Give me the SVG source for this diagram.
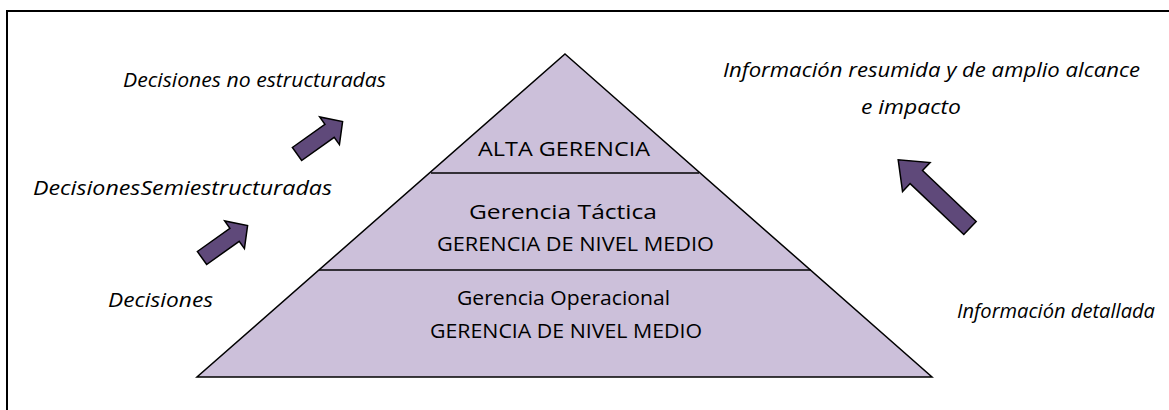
<svg xmlns="http://www.w3.org/2000/svg" width="1169" height="410" viewBox="0 0 1169 410">
<style>
.t{font-family:"Open Sans","Liberation Sans",sans-serif;font-size:20.5px;fill:#000}
.i{font-style:italic}
.arr{fill:#5F497A;stroke:#000;stroke-width:1.5;stroke-linejoin:miter}
.div{stroke:#000;stroke-width:1.5;fill:none}
</style>
<defs>
<polygon id="small" class="arr" points="0,-8 40,-8 40,-17 56,0 40,17 40,8 0,8"/>
<polygon id="big" class="arr" points="0,-9 74,-9 74,-20 99,0 74,20 74,9 0,9"/>
</defs>
<rect x="0" y="0" width="1169" height="410" fill="#fff"/>
<rect x="7" y="11" width="1200" height="500" fill="none" stroke="#000" stroke-width="2"/>
<g id="pyramid">
<polygon points="565,54 932,377 197,377" fill="#CCC0DA" stroke="#000" stroke-width="1.5"/>
<line class="div" x1="431" y1="173" x2="699" y2="173"/>
<line class="div" x1="319" y1="270" x2="811" y2="270"/>
</g>
<g id="level-alta">
<text class="t" x="478" y="156" textLength="172" lengthAdjust="spacingAndGlyphs">ALTA GERENCIA</text>
</g>
<g id="level-tactica">
<text class="t" x="469" y="219" textLength="188" lengthAdjust="spacingAndGlyphs">Gerencia Táctica</text>
<text class="t" x="437" y="251" textLength="277" lengthAdjust="spacingAndGlyphs">GERENCIA DE NIVEL MEDIO</text>
</g>
<g id="level-operacional">
<text class="t" x="457" y="305" textLength="213" lengthAdjust="spacingAndGlyphs">Gerencia Operacional</text>
<text class="t" x="430" y="338" textLength="272" lengthAdjust="spacingAndGlyphs">GERENCIA DE NIVEL MEDIO</text>
</g>
<g id="labels-left">
<text class="t i" x="123" y="87" textLength="263" lengthAdjust="spacingAndGlyphs">Decisiones no estructuradas</text>
<text class="t i" x="33" y="195" textLength="299" lengthAdjust="spacingAndGlyphs">DecisionesSemiestructuradas</text>
<text class="t i" x="108" y="307" textLength="105" lengthAdjust="spacingAndGlyphs">Decisiones</text>
</g>
<g id="labels-right">
<text class="t i" x="723" y="77" textLength="417" lengthAdjust="spacingAndGlyphs">Información resumida y de amplio alcance</text>
<text class="t i" x="861" y="114" textLength="100" lengthAdjust="spacingAndGlyphs">e impacto</text>
<text class="t i" x="957" y="318" textLength="198" lengthAdjust="spacingAndGlyphs">Información detallada</text>
</g>
<g id="connectors">
<use href="#small" transform="translate(297,154) rotate(-35.5)"/>
<use href="#small" transform="translate(202,258) rotate(-35.5)"/>
<use href="#big" transform="translate(970,228) rotate(-136.5)"/>
</g>
</svg>
